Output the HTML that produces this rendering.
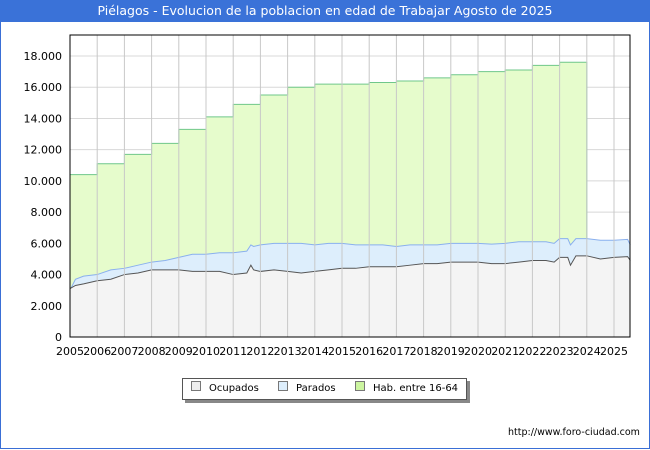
<!DOCTYPE html>
<html><head><meta charset="utf-8"><style>
body{margin:0;width:650px;height:450px;overflow:hidden;background:#fff;font-family:"DejaVu Sans","Liberation Sans",sans-serif}
#frame{position:absolute;left:0;top:0;width:648px;height:448px;border:1px solid #3a6fd6;border-top:none}
#title{position:absolute;left:0;top:0;width:650px;height:22px;background:#3a72d8;color:#fff;font-size:12.5px;text-align:center;line-height:22px}
</style></head><body>
<div id="frame"></div>
<div id="title">Piélagos - Evolucion de la poblacion en edad de Trabajar Agosto de 2025</div>
<svg id="c" width="650" height="450" style="position:absolute;left:0;top:0"></svg>
<script>
const years=[2005,2006,2007,2008,2009,2010,2011,2012,2013,2014,2015,2016,2017,2018,2019,2020,2021,2022,2023,2024,2025];
const habYears=[2005,2006,2007,2008,2009,2010,2011,2012,2013,2014,2015,2016,2017,2018,2019,2020,2021,2022,2023];
const habValues=[10400,11100,11700,12400,13300,14100,14900,15500,16000,16200,16200,16300,16400,16600,16800,17000,17100,17400,17600];
const timePoints=[2005,2005.2,2005.5,2006,2006.5,2007,2007.5,2008,2008.5,2009,2009.5,2010,2010.5,2011,2011.5,2011.65,2011.75,2012,2012.5,2013,2013.5,2014,2014.5,2015,2015.5,2016,2016.5,2017,2017.5,2018,2018.5,2019,2019.5,2020,2020.5,2021,2021.5,2022,2022.5,2022.8,2023,2023.3,2023.4,2023.6,2024,2024.5,2025,2025.5,2025.6];
const paradosValues=[3000,3700,3900,4000,4300,4400,4600,4800,4900,5100,5300,5300,5400,5400,5500,5900,5800,5900,6000,6000,6000,5900,6000,6000,5900,5900,5900,5800,5900,5900,5900,6000,6000,6000,5950,6000,6100,6100,6100,6000,6300,6300,5900,6300,6300,6200,6200,6250,5900];
const ocupadosValues=[3100,3300,3400,3600,3700,4000,4100,4300,4300,4300,4200,4200,4200,4000,4100,4600,4300,4200,4300,4200,4100,4200,4300,4400,4400,4500,4500,4500,4600,4700,4700,4800,4800,4800,4700,4700,4800,4900,4900,4800,5100,5100,4600,5200,5200,5000,5100,5150,4900];
const yTicks=[0,2000,4000,6000,8000,10000,12000,14000,16000,18000];
const X0=70,X1=630,Y0=337,YT=35;
const xs=y=>X0+(y-2005)*27.2;
const ys=v=>Y0-v*(Y0-56)/18000;
const svg=document.getElementById('c');const NS='http://www.w3.org/2000/svg';
function mk(t,a){const e=document.createElementNS(NS,t);for(const k in a)e.setAttribute(k,a[k]);svg.appendChild(e);return e;}
yTicks.forEach(v=>{const l=mk('line',{x1:X0,x2:X1,y1:ys(v),y2:ys(v),stroke:'#d8d8d8'});


const t=mk('text',{x:62,y:ys(v)+4,'text-anchor':'end','font-size':11});t.textContent=v.toLocaleString('de-DE');

});
let d=`M${xs(2005)},${Y0}`;habYears.forEach((y,i)=>{d+=` L${xs(y)},${ys(habValues[i])} L${xs(y+1)},${ys(habValues[i])}`;});d+=` L${xs(2024)},${Y0} Z`;
const ha=mk('path',{d:d,fill:'#e6fccc',stroke:'#6fc78a','stroke-width':1});


function area(vals,fill,stroke,name){let p=timePoints.map((t,i)=>`${xs(t)},${ys(vals[i])}`).join(' L');
const a=mk('path',{d:`M${xs(timePoints[0])},${Y0} L${p} L${xs(timePoints[timePoints.length-1])},${Y0} Z`,fill:fill});


const l=mk('path',{d:'M'+p,fill:'none',stroke:stroke,'stroke-width':1});

}
area(paradosValues,'#ddeefc','#8ab0ee','parados');
area(ocupadosValues,'#f4f4f4','#555','ocupados');
years.forEach(y=>{const l=mk('line',{x1:xs(y),x2:xs(y),y1:YT,y2:Y0,stroke:'#c8c8c8'});


const t=mk('text',{x:xs(y),y:355,'text-anchor':'middle','font-size':11});t.textContent=y;

});
const r=mk('rect',{x:X0,y:YT,width:X1-X0,height:Y0-YT,fill:'none',stroke:'#000'});


</script>
<div style="position:absolute;left:182px;top:378px;width:283px;height:20px;border:1px solid #555;background:#fff;box-shadow:3px 3px 0 #888;font-size:10px;line-height:20px;white-space:nowrap">
<span style="position:absolute;left:8px"><i style="display:inline-block;width:8px;height:8px;border:1px solid #777;background:#eee;margin-right:8px"></i>Ocupados</span>
<span style="position:absolute;left:95px"><i style="display:inline-block;width:8px;height:8px;border:1px solid #777;background:#ddeefc;margin-right:8px"></i>Parados</span>
<span style="position:absolute;left:172px"><i style="display:inline-block;width:8px;height:8px;border:1px solid #777;background:#ccf5a0;margin-right:8px"></i>Hab. entre 16-64</span>
</div>
<div style="position:absolute;left:508px;top:427px;font-size:9.5px;white-space:nowrap">http://www.foro-ciudad.com</div>
</body></html>
